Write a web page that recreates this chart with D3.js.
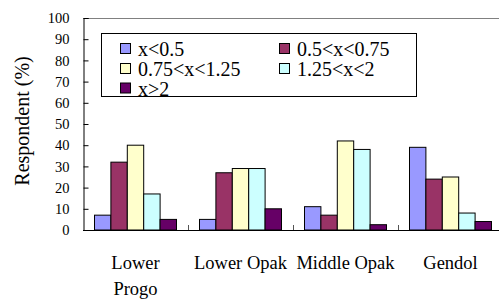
<!DOCTYPE html>
<html>
<head>
<meta charset="utf-8">
<script src="https://cdn.jsdelivr.net/npm/d3@7"></script>
<style>
  html, body { margin: 0; padding: 0; background: #fff; }
  svg { display: block; }
  svg text { font-family: "Times New Roman", "Liberation Serif", Times, "DejaVu Serif", serif !important; fill: #000; }
</style>
</head>
<body>
<svg id="chart" width="499" height="300"></svg>
<script>
const categories = [["Lower", "Progo"], ["Lower Opak"], ["Middle Opak"], ["Gendol"]];
const seriesNames = ["x<0.5", "0.5<x<0.75", "0.75<x<1.25", "1.25<x<2", "x>2"];
const seriesColors = ["#9999FF", "#993366", "#FFFFCC", "#CCFFFF", "#660066"];
const xLt05 =     [7, 5, 11, 39];
const x05to075 =  [32, 27, 7, 24];
const x075to125 = [40, 29, 42, 25];
const x125to2 =   [17, 29, 38, 8];
const xGt2 =      [5, 10, 2.5, 4];
const yTicks = [0, 10, 20, 30, 40, 50, 60, 70, 80, 90, 100];

const series = [xLt05, x05to075, x075to125, x125to2, xGt2];
const catKeys = categories.map(c => c.join(" "));

const svg = d3.select("#chart");
const m = { left: 83, top: 18, right: 503, bottom: 230 };

const x = d3.scaleBand().domain(catKeys).range([m.left, m.right]).paddingInner(0).paddingOuter(0);
const inner = d3.scaleBand().domain(d3.range(series.length)).range([11.5, x.bandwidth() - 11.5]).padding(0);
const y = d3.scaleLinear().domain([0, 100]).range([m.bottom, m.top]);

// top border (gray)
svg.append("line").attr("x1", m.left).attr("x2", m.right).attr("y1", y(100) + 0.5).attr("y2", y(100) + 0.5)
  .attr("stroke", "#808080").attr("stroke-width", 1);

// bars
catKeys.forEach((ck, ci) => {
  series.forEach((s, si) => {
    svg.append("rect")
      .attr("x", x(ck) + inner(si))
      .attr("y", y(s[ci]))
      .attr("width", inner.bandwidth())
      .attr("height", y(0) - y(s[ci]))
      .attr("fill", seriesColors[si])
      .attr("stroke", "#000")
      .attr("stroke-width", 1);
  });
});

// y axis
const yAxis = d3.axisLeft(y).tickValues(yTicks).tickSize(-5).tickPadding(14).tickFormat(d3.format("d"));
const ya = svg.append("g").attr("transform", `translate(${m.left + 0.5},0)`).call(yAxis);
ya.attr("font-family", null);
ya.select(".domain").attr("stroke", "#000");
ya.selectAll(".tick line").attr("stroke", "#000");
ya.selectAll(".tick text").style("font-size", "14.5px");

// x axis
const xa = svg.append("g").attr("transform", `translate(0,${m.bottom + 0.5})`)
  .call(d3.axisBottom(x).tickSize(0).tickFormat(""));
xa.attr("font-family", null);
xa.select(".domain").attr("stroke", "#000").attr("d", `M${m.left},0H${m.right}`);
// category separators (inside ticks)
catKeys.slice(1).forEach(ck => {
  svg.append("line").attr("x1", x(ck) + 0.5).attr("x2", x(ck) + 0.5)
    .attr("y1", m.bottom).attr("y2", m.bottom - 5).attr("stroke", "#555");
});
// category labels
categories.forEach((lines, ci) => {
  const t = svg.append("text").attr("text-anchor", "middle")
    .attr("x", x(catKeys[ci]) + x.bandwidth() / 2)
    .attr("y", 269)
    .style("font-size", "18.5px");
  lines.forEach((ln, li) => {
    t.append("tspan").attr("x", x(catKeys[ci]) + x.bandwidth() / 2).attr("dy", li === 0 ? 0 : 26).text(ln);
  });
});

// y title
svg.append("text").attr("text-anchor", "middle")
  .attr("transform", "translate(29,121) rotate(-90)")
  .style("font-size", "20px")
  .text("Respondent (%)");

// legend
const lg = svg.append("g");
lg.append("rect").attr("x", 101.5).attr("y", 33.5).attr("width", 315).attr("height", 63)
  .attr("fill", "#fff").attr("stroke", "#000");
const legendPos = [[120, 49], [279, 49], [120, 69], [279, 69], [120, 88.5]];
seriesNames.forEach((nm, i) => {
  const [lx, ly] = legendPos[i];
  lg.append("rect").attr("x", lx + 0.5).attr("y", ly - 5.5).attr("width", 10).attr("height", 10)
    .attr("fill", seriesColors[i]).attr("stroke", "#000");
  lg.append("text").attr("x", lx + 18).attr("y", ly + 7).style("font-size", "20px").text(nm);
});
</script>
</body>
</html>
